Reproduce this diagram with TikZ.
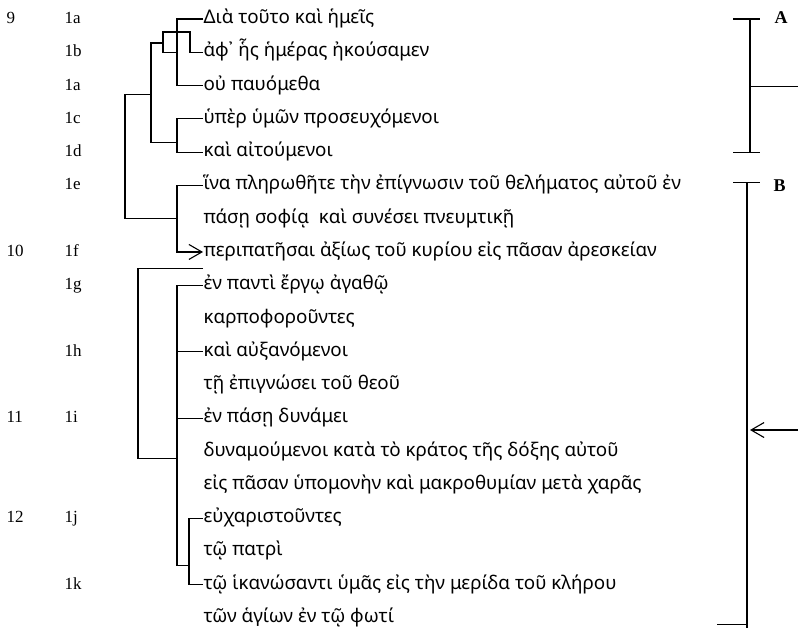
\documentclass[tikz,border=0pt]{standalone}
\usepackage{fontspec}
\setmainfont{Liberation Serif}
\newfontfamily\greekfont{Noto Sans}
\usetikzlibrary{arrows.meta}

\begin{document}
\begin{tikzpicture}[x=1pt,y=-33.28pt,>={Straight Barb[length=13pt,width=15pt]},
                    line width=1.1pt,
                    gr/.style={anchor=west,inner sep=0pt,text height=9pt,text depth=0pt,
                               font={\greekfont\fontsize{18.8}{20}\selectfont}},
                    lab/.style={anchor=west,inner sep=0pt,text height=9pt,text depth=0pt,
                                font={\fontsize{17}{20}\selectfont}},
                    key/.style={lab,font={\bfseries\fontsize{18}{20}\selectfont}}]
  \useasboundingbox (0,-0.571) rectangle (798,18.42);

  \node[lab] (v9)  at (6,0)  {9};
  \node[lab] (v10) at (6,7)  {10};
  \node[lab] (v11) at (6,12) {11};
  \node[lab] (v12) at (6,15) {12};

  \node[lab] (l1)  at (64,0)  {1a};
  \node[lab] (l2)  at (64,1)  {1b};
  \node[lab] (l3)  at (64,2)  {1a};
  \node[lab] (l4)  at (64,3)  {1c};
  \node[lab] (l5)  at (64,4)  {1d};
  \node[lab] (l6)  at (64,5)  {1e};
  \node[lab] (l8)  at (64,7)  {1f};
  \node[lab] (l9)  at (64,8)  {1g};
  \node[lab] (l11) at (64,10) {1h};
  \node[lab] (l13) at (64,12) {1i};
  \node[lab] (l16) at (64,15) {1j};
  \node[lab] (l18) at (64,17) {1k};

  \node[gr] (t1)  at (203,0)  {Διὰ τοῦτο καὶ ἡμεῖς};
  \node[gr] (t2)  at (203,1)  {ἀφ᾽ ἧς ἡμέρας ἠκούσαμεν};
  \node[gr] (t3)  at (203,2)  {οὐ παυόμεθα};
  \node[gr] (t4)  at (203,3)  {ὑπὲρ ὑμῶν προσευχόμενοι};
  \node[gr] (t5)  at (203,4)  {καὶ αἰτούμενοι};
  \node[gr] (t6)  at (203,5)  {ἵνα πληρωθῆτε τὴν ἐπίγνωσιν τοῦ θελήματος αὐτοῦ ἐν};
  \node[gr] (t7)  at (203,6)  {πάσῃ σοφίᾳ\ \ καὶ συνέσει πνευμτικῇ};
  \node[gr] (t8)  at (203,7)  {περιπατῆσαι ἀξίως τοῦ κυρίου εἰς πᾶσαν ἀρεσκείαν};
  \node[gr] (t9)  at (203,8)  {ἐν παντὶ ἔργῳ ἀγαθῷ};
  \node[gr] (t10) at (203,9)  {καρποφοροῦντες};
  \node[gr] (t11) at (203,10) {καὶ αὐξανόμενοι};
  \node[gr] (t12) at (203,11) {τῇ ἐπιγνώσει τοῦ θεοῦ};
  \node[gr] (t13) at (203,12) {ἐν πάσῃ δυνάμει};
  \node[gr] (t14) at (203,13) {δυναμούμενοι κατὰ τὸ κράτος τῆς δόξης αὐτοῦ};
  \node[gr] (t15) at (203,14) {εἰς πᾶσαν ὑπομονὴν καὶ μακροθυμίαν μετὰ χαρᾶς};
  \node[gr] (t16) at (203,15) {εὐχαριστοῦντες};
  \node[gr] (t17) at (203,16) {τῷ πατρὶ};
  \node[gr] (t18) at (203,17) {τῷ ἱκανώσαντι ὑμᾶς εἰς τὴν μερίδα τοῦ κλήρου};
  \node[gr] (t19) at (203,18) {τῶν ἁγίων ἐν τῷ φωτί};

  \draw (t1.west) -- ++(-26,0) |- (t3.west);
  \draw (t2.west) -- ++(-13,0) -- ++(0,-0.61) -- ++(-27,0) coordinate (loop)
        -- ++(0,0.61) -- ++(14,0);
  \draw (t4.west) -- ++(-26,0) |- (t5.west);
  \draw (t4.west) ++(-26,0.70) coordinate (j45) -- ++(-26,0) coordinate (mid)
        -- ++(0,-2.98) -- ++(12,0);
  \draw (mid |- 0,2.28) -- ++(-26,0) -- ++(0,3.72) -- ++(52,0);
  \draw[->] (t6.west) -- ++(-26,0) |- (t8.west);

  \coordinate (gtop) at (203,7.51);
  \draw (gtop) -- ++(-65,0) -- ++(0,5.69) -- ++(39,0);
  \draw (t9.west) -- ++(-26,0) -- ++(0,8.41) -- ++(12,0);
  \draw (t11.west) -- ++(-26,0);
  \draw (t13.west) -- ++(-26,0);
  \draw (t16.west) -- ++(-14,0) |- (t18.west);

  \coordinate (Atop) at (750,0);
  \coordinate (Abot) at (750,4);
  \draw (Atop) -- (Abot);
  \draw ([xshift=-17pt]Atop) -- ([xshift=10pt]Atop);
  \draw ([xshift=-17pt]Abot) -- ([xshift=10pt]Abot);
  \draw (750,2.04) -- (798,2.04);
  \node[key] (A) at (774,0) {A};

  \coordinate (Btop) at (747,4.9);
  \coordinate (Bbot) at (747,18.3);
  \draw (Btop) -- (Bbot);
  \draw ([xshift=-14pt]Btop) -- ([xshift=13pt]Btop);
  \draw (717,18.2) -- (748,18.2);
  \node[key] (B) at (773,5.05) {B};
  \draw[->] (798,12.35) -- (750,12.35);
\end{tikzpicture}
\end{document}
